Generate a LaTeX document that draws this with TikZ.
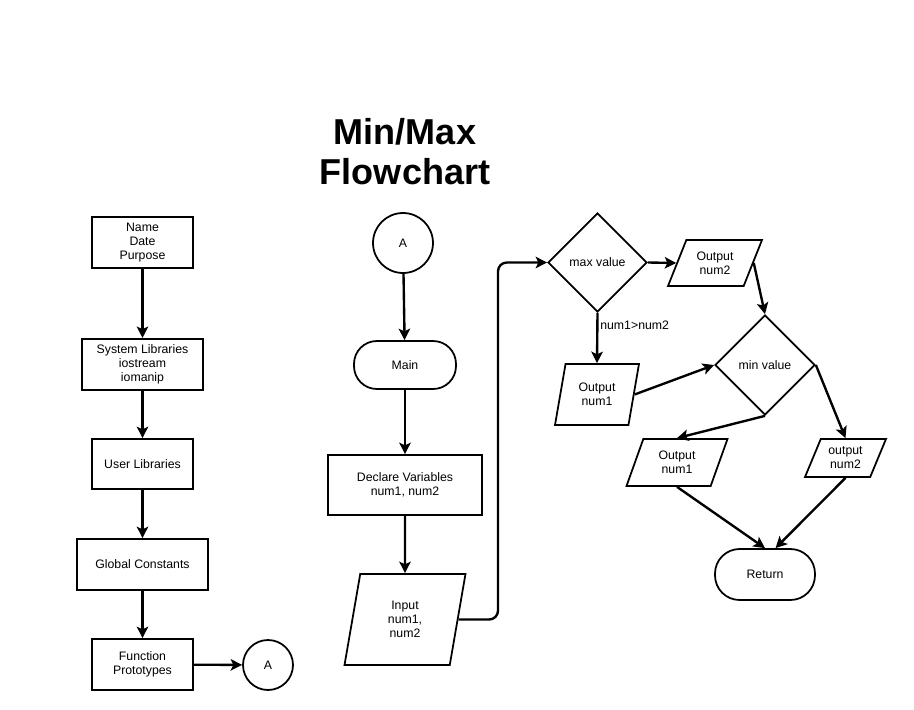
\documentclass[tikz,border=0pt]{standalone}
\usepackage{fontspec}
\setmainfont{Liberation Sans}
\usetikzlibrary{shapes.geometric,arrows.meta}

\begin{document}
\begin{tikzpicture}
			[	x=0.02cm,y=-0.02cm,
			font=\fontsize{7}{8}\selectfont,
			box/.style={rectangle,draw=black,line width=1pt,align=center,minimum height=1.02cm},
			term/.style={rectangle,rounded corners=13pt,draw=black,line width=1pt,minimum height=0.98cm},
			io/.style={trapezium,trapezium stretches body,draw=black,line width=1pt,align=center},
			dec/.style={diamond,draw=black,line width=1pt},
			conn/.style={circle,draw=black,line width=1pt},
			arr/.style={-{Stealth[length=6.5pt,width=6.5pt,inset=1.5pt]},line width=1.35pt}
			]
			\useasboundingbox (0,0) rectangle (914,710);
			\node[font=\bfseries\fontsize{20.5}{22.7}\selectfont,align=center] (title) at (405,152) {Min/Max\\Flowchart};

			% left column
			\node[box,minimum width=2.02cm] (info) at (142.5,242.5) {Name\\Date\\Purpose};
			\node[box,minimum width=2.42cm] (syslib) at (142.5,364.5) {System Libraries\\iostream\\iomanip};
			\node[box,minimum width=2.02cm,minimum height=1cm] (userlib) at (142.5,464) {User Libraries};
			\node[box,minimum width=2.62cm] (const) at (142.5,564.5) {Global Constants};
			\node[box,minimum width=2.02cm] (proto) at (142.5,664.5) {Function\\Prototypes};
			\node[conn,minimum size=1cm] (toA) at (268,665) {A};

			% main
			\node[conn,minimum size=1.2cm] (fromA) at (403,243) {A};
			\node[term,minimum width=2.04cm,minimum height=0.96cm] (main) at (405,365) {Main};
			\node[box,minimum width=3.08cm,minimum height=1.2cm] (decl) at (405,485) {Declare Variables\\num1, num2};
			\node[io,trapezium left angle=72,trapezium right angle=108,minimum width=2.42cm,minimum height=1.82cm] (input) at (405,619.5) {Input\\num1,\\num2};
			\coordinate (bend) at (498,619.5);

			% min / max
			\node[dec,minimum size=1.98cm] (maxv) at (597.5,262.5) {max value};
			\node[io,trapezium left angle=62,trapezium right angle=118,minimum width=1.88cm,minimum height=0.92cm] (outB) at (715,263) {Output\\num2};
			\node[io,trapezium left angle=73,trapezium right angle=107,minimum width=1.68cm,minimum height=1.22cm] (outA) at (597,394.5) {Output\\num1};
			\node[dec,minimum size=2cm] (minv) at (765,365) {min value};
			\node[io,trapezium left angle=64,trapezium right angle=116,minimum width=2.02cm,minimum height=0.94cm] (minA) at (677,462.5) {Output\\num1};
			\node[io,trapezium left angle=65,trapezium right angle=115,minimum width=1.62cm,minimum height=0.76cm] (minB) at (845.5,458) {output\\num2};
			\node[term,minimum width=2cm,minimum height=1.02cm,rounded corners=14pt] (ret) at (765,574.5) {Return};

			\draw[arr] (info) -- (syslib);
			\draw[arr] (syslib) -- (userlib);
			\draw[arr] (userlib) -- (const);
			\draw[arr] (const) -- (proto);
			\draw[arr] (proto) -- (toA);

			\draw[arr] (fromA) -- (main);
			\draw[arr] (main) -- (decl);
			\draw[arr] (decl) -- (input);
			\draw[arr,rounded corners=5pt] (input.east) -- (bend) |- (maxv.west);

			\draw[arr] (maxv.east) -- (outB.west);
			\draw[arr] (maxv.south) -- node[pos=0.25,right,inner sep=1pt]{num1>num2} (outA.north);
			\draw[arr] (outB.east) -- (minv.north);
			\draw[arr] (outA.east) -- (minv.west);
			\draw[arr] (minv.south) -- (minA.north);
			\draw[arr] (minv.east) -- (minB.north);
			\draw[arr] (minA.south) -- (ret.north);
			\draw[arr] (minB.south) -- ([xshift=6pt]ret.north);
		\end{tikzpicture}
\end{document}
